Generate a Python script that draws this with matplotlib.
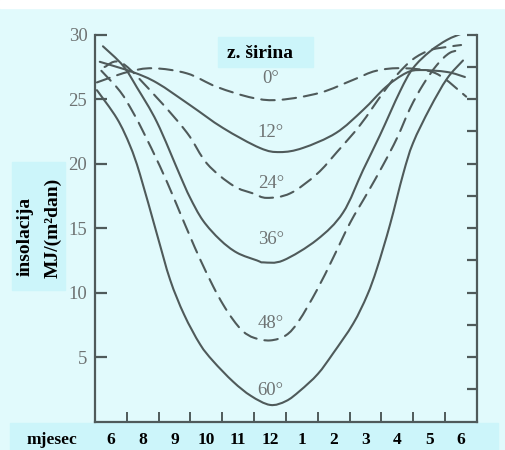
import matplotlib
matplotlib.use('Agg')
import matplotlib.pyplot as plt
from matplotlib.patches import Rectangle, PathPatch
from matplotlib.path import Path
import numpy as np

# month axis: 0 = left edge (start of the year shown), 12 = right edge
month_labels = ['6', '8', '9', '10', '11', '12', '1', '2', '3', '4', '5', '6']

# (month position, MJ/(m2 dan))
lat_0_x = [0.06, 1.01, 1.82, 2.89, 3.83, 4.96, 5.81, 7.07, 8.11, 8.83, 9.68, 10.71, 11.66]
lat_0_y = [26.3, 27.1, 27.4, 27.0, 25.95, 25.1, 24.95, 25.5, 26.5, 27.2, 27.4, 27.0, 25.2]

lat_12_x = [0.15, 1.19, 1.95, 2.98, 4.02, 5.18, 5.81, 6.53, 7.57, 8.42, 9.14, 9.77, 10.21, 11.06, 11.62]
lat_12_y = [27.9, 27.1, 26.26, 24.55, 22.77, 21.22, 20.9, 21.22, 22.38, 24.16, 25.95, 27.03, 27.26, 27.11, 26.72]

lat_24_x = [0.3, 0.85, 1.95, 2.89, 3.52, 4.34, 4.96, 5.4, 6.13, 6.97, 7.6, 8.33, 9.05, 9.49, 9.99, 10.52, 11.06, 11.5]
lat_24_y = [27.5, 27.8, 25.1, 22.4, 20.0, 18.3, 17.7, 17.35, 17.7, 19.2, 20.9, 23.0, 25.5, 26.9, 28.1, 28.8, 29.05, 29.2]

lat_36_x = [0.25, 0.88, 1.32, 1.95, 2.67, 2.98, 3.39, 3.93, 4.46, 5.09, 5.3, 5.91, 6.97, 7.79, 8.42, 8.95, 9.58, 9.99, 10.52, 11.06, 11.53]
lat_36_y = [29.1, 27.6, 25.9, 23.2, 19.1, 17.4, 15.6, 14.1, 13.1, 12.5, 12.35, 12.5, 14.1, 16.2, 19.5, 22.2, 25.6, 27.4, 28.7, 29.6, 30.1]

lat_48_x = [0.2, 0.79, 1.19, 1.51, 2.04, 2.45, 2.67, 2.98, 3.3, 3.71, 4.02, 4.34, 4.65, 5.0, 5.5, 6.0, 6.4, 6.97,
            7.48, 8.01, 8.55, 9.05, 9.49, 9.9, 10.3, 10.74, 11.15, 11.53]
lat_48_y = [27.2, 25.6, 24.0, 22.5, 19.8, 17.5, 16.2, 14.4, 12.6, 10.5, 9.1, 7.9, 7.0, 6.5, 6.3, 6.7, 7.8, 10.2,
            12.7, 15.4, 17.7, 19.9, 22.0, 24.3, 26.1, 27.65, 28.6, 28.8]

lat_60_x = [0.06, 0.69, 1.1, 1.41, 1.95, 2.36, 2.8, 3.3, 3.71, 4.34, 4.9, 5.5, 6.0, 6.44, 7.0, 7.48, 8.11, 8.55,
            8.86, 9.27, 9.68, 9.99, 10.52, 11.06, 11.56]
lat_60_y = [25.7, 23.5, 21.4, 19.2, 14.5, 11.0, 8.3, 6.0, 4.7, 3.1, 2.0, 1.3, 1.6, 2.4, 3.7, 5.3, 7.6, 9.8,
            11.9, 15.3, 19.2, 21.6, 24.3, 26.6, 28.0]

curve_labels = ['0°', '12°', '24°', '36°', '48°', '60°']

W, H = 506, 450
bg = '#e1fafc'
band = '#ccf5fa'
ink = '#4f5a5a'
grey = '#6e7373'
serif = ['Liberation Serif', 'DejaVu Serif']


def fx(px):
    return px / W


def fy(py):
    return 1 - py / H


def smooth_path(xs, ys):
    # bezier segments through the read points (catmull-rom style handles)
    p = np.column_stack([xs, ys]).astype(float)
    verts = [p[0]]
    codes = [Path.MOVETO]
    for i in range(len(p) - 1):
        p0 = p[i - 1] if i > 0 else p[i]
        p3 = p[i + 2] if i + 2 < len(p) else p[i + 1]
        c1 = p[i] + (p[i + 1] - p0) / 6
        c2 = p[i + 1] - (p3 - p[i]) / 6
        verts += [c1, c2, p[i + 1]]
        codes += [Path.CURVE4] * 3
    return Path(verts, codes)


def draw(ax, xs, ys, dashed):
    ls = (0, (6.5, 3.8)) if dashed else '-'
    ax.add_patch(PathPatch(smooth_path(xs, ys), fill=False, edgecolor=ink, lw=1.5,
                           linestyle=ls, capstyle='round', joinstyle='round'))


fig = plt.figure(figsize=(W / 100, H / 100), dpi=100, facecolor=bg)

# background boxes (kept under the axes)
boxes = [((0, fy(8)), 1, 8 / H, 'white'),
         ((fx(10), 0), fx(488), 27 / H, band),
         ((fx(12), fy(290)), fx(53), 128 / H, band),
         ((fx(218), fy(67)), fx(95), 30 / H, band)]
for xy, w, h, c in boxes:
    fig.patches.append(Rectangle(xy, w, h, transform=fig.transFigure, color=c, zorder=-5))

ax = fig.add_axes([fx(95), fy(421.7), fx(477 - 95), (421.7 - 34.7) / H])
ax.set_facecolor('none')

# right axis, finer ticks
ax2 = ax.twinx()

ax.set_xlim(0, 12)
ax.set_ylim(0, 30)
ax2.set_ylim(0, 30)

ax.spines['top'].set_visible(False)
ax.spines['right'].set_visible(False)
for s in ['left', 'bottom']:
    ax.spines[s].set_color(ink)
    ax.spines[s].set_linewidth(1.6)
for s in ['left', 'top', 'bottom']:
    ax2.spines[s].set_visible(False)
ax2.spines['right'].set_color(ink)
ax2.spines['right'].set_linewidth(1.6)

draw(ax, lat_0_x, lat_0_y, True)
draw(ax, lat_12_x, lat_12_y, False)
draw(ax, lat_24_x, lat_24_y, True)
draw(ax, lat_36_x, lat_36_y, False)
draw(ax, lat_48_x, lat_48_y, True)
draw(ax, lat_60_x, lat_60_y, False)

label_ys = [26.6, 22.4, 18.5, 14.1, 7.65, 2.45]
for lab, yy in zip(curve_labels, label_ys):
    ax.text(5.52, yy, lab, ha='center', va='center', fontsize=13.5, color=grey, family=serif)

# left axis
ax.set_yticks([5, 10, 15, 20, 25, 30])
ax.tick_params(axis='y', direction='in', length=8.6, width=1.6, color=ink, pad=5.5,
               labelsize=13.5, labelcolor=grey)
for t in ax.get_yticklabels():
    t.set_family(serif)

ax2.set_yticks(np.arange(2.5, 30.1, 2.5))
ax2.tick_params(axis='y', direction='in', length=7.2, width=1.6, color=ink, labelright=False)

# bottom axis: ticks between months, names centred in each month
ax.set_xticks(range(1, 12))
ax.tick_params(axis='x', direction='in', length=7.2, width=1.4, color=ink, labelbottom=False)
xt = ax.get_xaxis_transform()
for i, lab in enumerate(month_labels):
    ax.text(i + 0.5, -0.047, lab, transform=xt, ha='center', va='center', fontsize=12.5,
            fontweight='bold', family=serif, clip_on=False)

fig.text(fx(52), fy(440), 'mjesec', ha='center', va='center', fontsize=12.5,
         fontweight='bold', family=serif)
fig.text(fx(260), fy(53), 'z. širina', ha='center', va='center', fontsize=14,
         fontweight='bold', family=serif)
fig.text(fx(25), fy(236), 'insolacija', ha='center', va='center', rotation=90,
         fontsize=14, fontweight='bold', family=serif)
fig.text(fx(53), fy(228), 'MJ/(m²dan)', ha='center', va='center', rotation=90,
         fontsize=14, fontweight='bold', family=serif)

fig.savefig('out.png', dpi=100, facecolor=bg)
